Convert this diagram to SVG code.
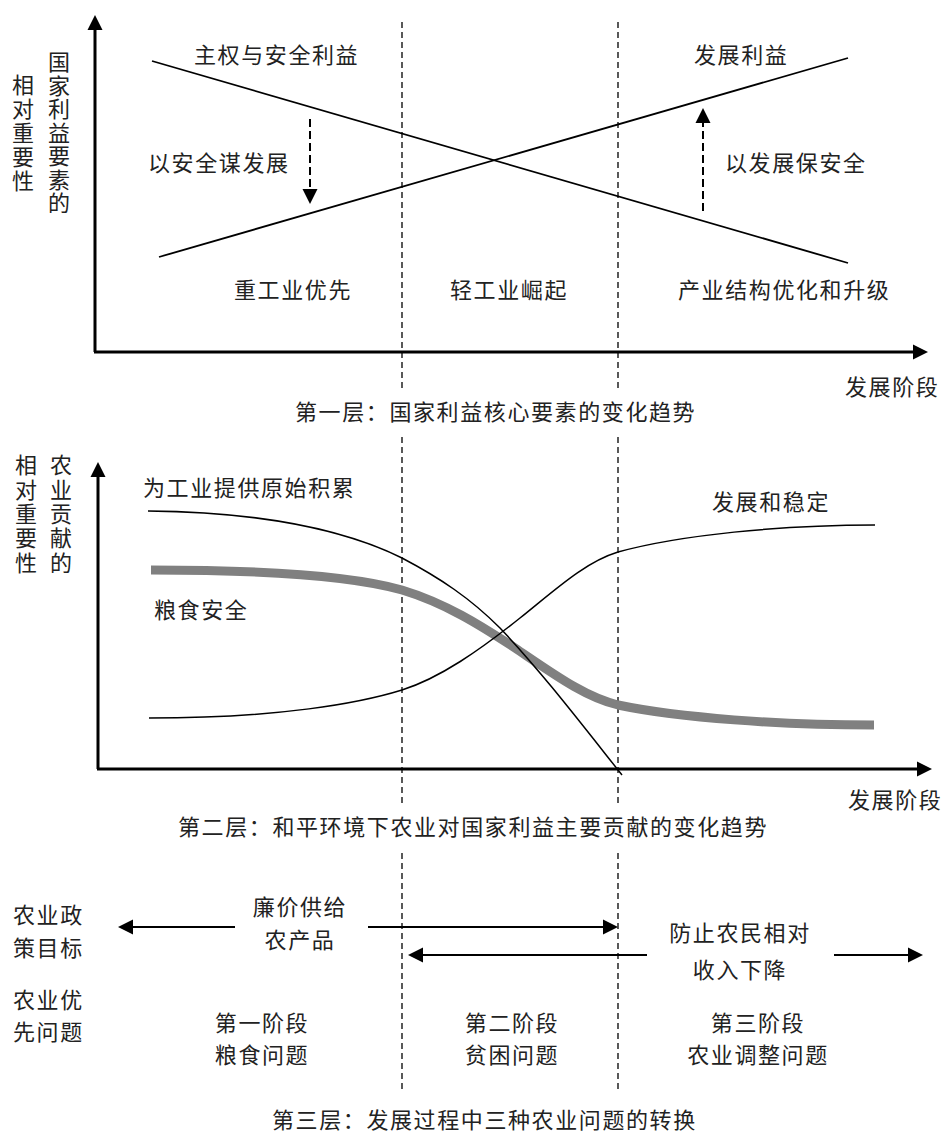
<svg xmlns="http://www.w3.org/2000/svg" width="943" height="1133" viewBox="0 0 943 1133">
<style>
text{font-family:"Noto Sans CJK SC","Noto Sans",sans-serif;font-size:22px;fill:#222;letter-spacing:1.6px}
.m{text-anchor:middle}
.v{writing-mode:vertical-rl;text-orientation:upright}
.axis{stroke:#000;stroke-width:3;fill:none}
.ln{stroke:#000;stroke-width:1.8;fill:none}
.cv{stroke:#000;stroke-width:1.5;fill:none}
.gray{stroke:#808080;stroke-width:9;fill:none}
.div{stroke:#000;stroke-width:1.3;stroke-dasharray:6 4;fill:none}
.darr{stroke:#000;stroke-width:2;stroke-dasharray:8 4;fill:none}
.arr{stroke:#000;stroke-width:2.2;fill:none}
</style>
<defs>
<marker id="hd" markerUnits="userSpaceOnUse" markerWidth="16" markerHeight="16" refX="0" refY="7.5" orient="auto" overflow="visible">
<path d="M0,0 L15,7.5 L0,15 z" fill="#000"/>
</marker>
</defs>
<rect width="943" height="1133" fill="#fff"/>

<g id="dividers">
<path class="div" d="M402,22 V388 M402,437 V807 M402,853 V1090"/>
<path class="div" d="M618,22 V388 M618,437 V807 M618,853 V1090"/>
</g>

<g id="axes1">
<path class="axis" d="M95,352 V30" marker-end="url(#hd)"/>
<path class="axis" d="M94,352 H913" marker-end="url(#hd)"/>
</g>
<g id="axes2">
<path class="axis" d="M98,769 V477" marker-end="url(#hd)"/>
<path class="axis" d="M97,769 H917" marker-end="url(#hd)"/>
</g>

<g id="connectors">
<line class="ln" x1="152" y1="61" x2="848" y2="263"/>
<line class="ln" x1="159" y1="257" x2="848" y2="58"/>
<line class="darr" x1="310" y1="119" x2="310" y2="189" marker-end="url(#hd)"/>
<line class="darr" x1="703" y1="211" x2="703" y2="123" marker-end="url(#hd)"/>
<path class="gray" d="M151,570 C280,570 360,578 402,590 C445,603 480,625 515,648 C555,675 585,697 618,705 C680,718 780,725 874,725"/>
<path class="cv" d="M148,511 C260,512 345,530 402,558 C440,578 470,598 500,628 C540,670 580,722 622,775"/>
<path class="cv" d="M149,718 C280,718 360,703 402,690 C440,678 480,650 520,618 C555,590 585,562 618,552 C680,535 780,525 875,525"/>
<line class="arr" x1="235" y1="927" x2="133" y2="927" marker-end="url(#hd)"/>
<line class="arr" x1="368" y1="927" x2="603" y2="927" marker-end="url(#hd)"/>
<line class="arr" x1="647" y1="955" x2="423" y2="955" marker-end="url(#hd)"/>
<line class="arr" x1="834" y1="955" x2="908" y2="955" marker-end="url(#hd)"/>
</g>

<g id="ylabel1">
<text class="v" x="23" y="74" style="letter-spacing:2px">相对重要性</text>
<text class="v" x="59" y="51" style="letter-spacing:1.5px">国家利益要素的</text>
</g>
<g id="n-sovereignty"><text x="194" y="63">主权与安全利益</text></g>
<g id="n-devinterest"><text x="694" y="63">发展利益</text></g>
<g id="n-secdev"><text x="148" y="171">以安全谋发展</text></g>
<g id="n-devsec"><text x="725" y="171">以发展保安全</text></g>
<g id="n-heavy"><text x="234" y="298">重工业优先</text></g>
<g id="n-light"><text x="450" y="298">轻工业崛起</text></g>
<g id="n-upgrade"><text x="678" y="298">产业结构优化和升级</text></g>
<g id="n-xlabel1"><text x="845" y="395">发展阶段</text></g>
<g id="n-caption1"><text x="295" y="420">第一层：国家利益核心要素的变化趋势</text></g>

<g id="ylabel2">
<text class="v" x="26" y="454" style="letter-spacing:2.3px">相对重要性</text>
<text class="v" x="61" y="454" style="letter-spacing:2.3px">农业贡献的</text>
</g>
<g id="n-accum"><text x="143" y="496">为工业提供原始积累</text></g>
<g id="n-food"><text x="154" y="618">粮食安全</text></g>
<g id="n-stable"><text x="712" y="510">发展和稳定</text></g>
<g id="n-xlabel2"><text x="848" y="808">发展阶段</text></g>
<g id="n-caption2"><text x="178" y="835">第二层：和平环境下农业对国家利益主要贡献的变化趋势</text></g>

<g id="n-policy"><text x="13" y="923">农业政</text><text x="13" y="956">策目标</text></g>
<g id="n-priority"><text x="13" y="1008">农业优</text><text x="13" y="1040">先问题</text></g>
<g id="n-cheap"><text class="m" x="300" y="915">廉价供给</text><text class="m" x="300" y="948">农产品</text></g>
<g id="n-prevent"><text class="m" x="740" y="941">防止农民相对</text><text class="m" x="740" y="978">收入下降</text></g>
<g id="n-stage1"><text class="m" x="262" y="1031">第一阶段</text><text class="m" x="262" y="1063">粮食问题</text></g>
<g id="n-stage2"><text class="m" x="512" y="1031">第二阶段</text><text class="m" x="512" y="1063">贫困问题</text></g>
<g id="n-stage3"><text class="m" x="758" y="1031">第三阶段</text><text class="m" x="758" y="1063">农业调整问题</text></g>
<g id="n-caption3"><text x="272" y="1128">第三层：发展过程中三种农业问题的转换</text></g>
</svg>
